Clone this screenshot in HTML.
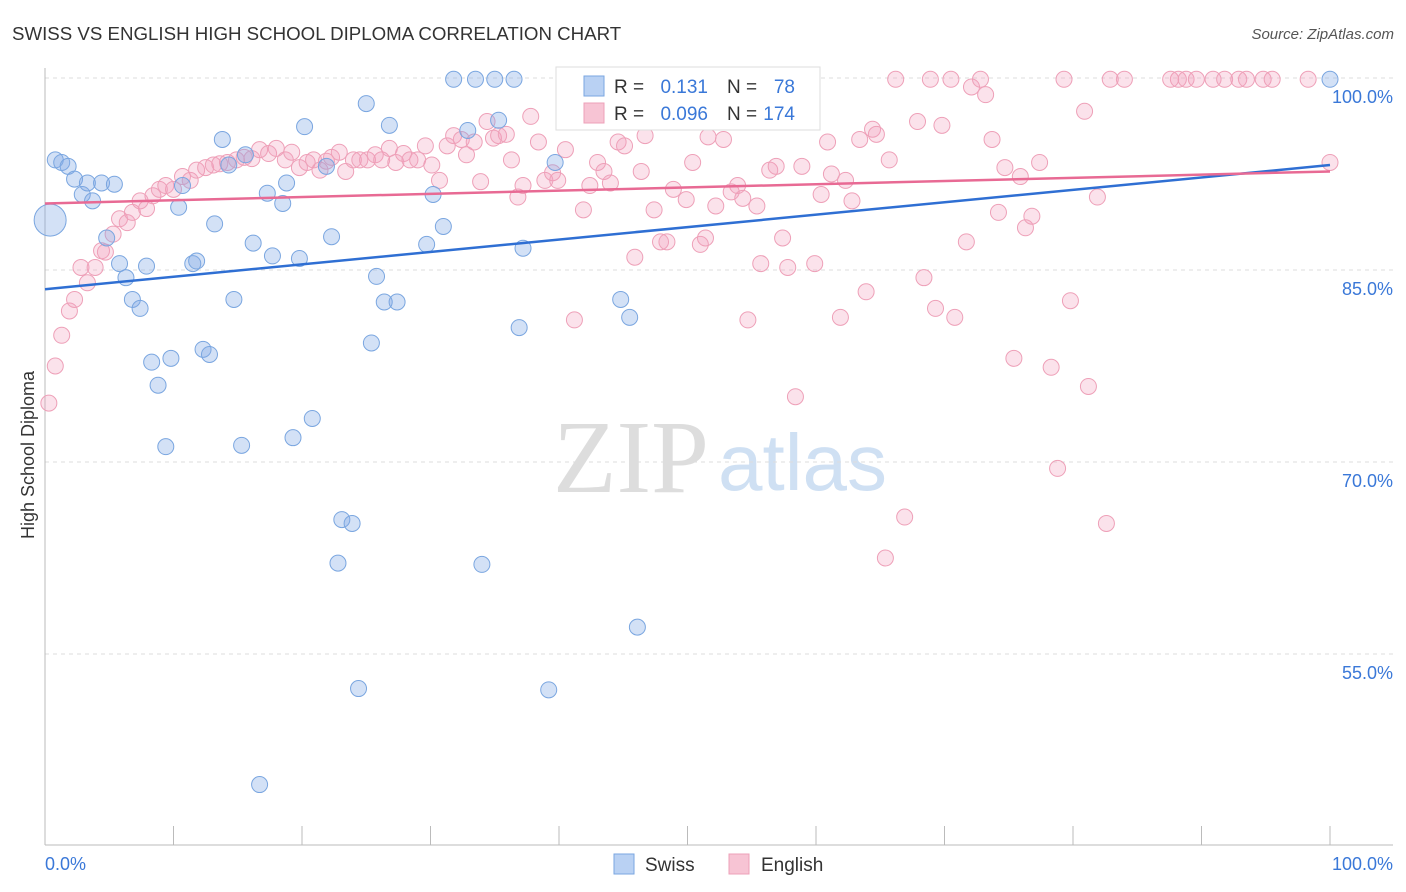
<!DOCTYPE html>
<html><head><meta charset="utf-8">
<style>
body{margin:0;background:#fff;font-family:"Liberation Sans",sans-serif;}
svg{display:block}
</style></head>
<body>
<svg id="chart" width="1406" height="892">
<text x="12" y="40" font-size="18.7" fill="#333">SWISS VS ENGLISH HIGH SCHOOL DIPLOMA CORRELATION CHART</text>
<text x="1394" y="39" font-size="15" fill="#555" font-style="italic" text-anchor="end">Source: ZipAtlas.com</text>
<text x="553" y="492" font-size="104" fill="#ddd" font-family="Liberation Serif,serif">ZIP</text>
<text x="718" y="490" font-size="80" fill="#cfe0f3">atlas</text>
<text transform="translate(34,455) rotate(-90)" font-size="18" fill="#333" text-anchor="middle">High School Diploma</text>
<g id="grid"></g><g id="axes"></g><g id="pts"></g><g id="trend"></g>
<g>
<rect x="556" y="67" width="264" height="63" fill="#fff" stroke="#ddd"/>
<rect x="584" y="76" width="20" height="20" fill="#b9d1f3" stroke="#7aa6e0"/>
<text x="614" y="93" font-size="19" fill="#333">R =</text>
<text x="708" y="93" font-size="19" fill="#3a78d8" text-anchor="end">0.131</text>
<text x="727" y="93" font-size="19" fill="#333">N =</text>
<text x="795" y="93" font-size="19" fill="#3a78d8" text-anchor="end">78</text>
<rect x="584" y="103" width="20" height="20" fill="#f7c4d4" stroke="#eea0b8"/>
<text x="614" y="120" font-size="19" fill="#333">R =</text>
<text x="708" y="120" font-size="19" fill="#3a78d8" text-anchor="end">0.096</text>
<text x="727" y="120" font-size="19" fill="#333">N =</text>
<text x="795" y="120" font-size="19" fill="#3a78d8" text-anchor="end">174</text>
</g>
<g>
<rect x="614" y="854" width="20" height="20" fill="#b9d1f3" stroke="#7aa6e0"/>
<text x="645" y="871" font-size="19" fill="#333">Swiss</text>
<rect x="729" y="854" width="20" height="20" fill="#f7c4d4" stroke="#eea0b8"/>
<text x="761" y="871" font-size="19" fill="#333">English</text>
</g>
</svg>
<script>
const yTicks=[100,85,70,55];
const xTickLabels=["0.0%","100.0%"];
const swissX=[0.4,0.8,1.3,1.8,2.3,2.9,3.3,3.7,4.4,5.4,4.8,5.8,6.3,7.9,6.8,7.4,8.3,8.8,9.8,9.4,10.4,10.7,11.5,11.8,12.3,12.8,13.2,13.8,14.3,14.7,15.3,15.6,16.2,16.7,17.3,17.7,18.5,18.8,19.3,19.8,20.2,20.8,21.9,22.3,22.8,23.1,23.9,24.4,25.0,25.4,25.8,26.4,26.8,27.4,29.7,30.2,31.0,31.8,32.9,33.5,34.0,35.0,35.3,36.5,36.9,37.2,39.2,39.7,41.5,44.8,45.5,46.1,100];
const swissY=[88.9,93.6,93.4,93.1,92.1,90.9,91.8,90.4,91.8,91.7,87.5,85.5,84.4,85.3,82.7,82.0,77.8,76.0,78.1,71.2,89.9,91.6,85.5,85.7,78.8,78.4,88.6,95.2,93.2,82.7,71.3,94.0,87.1,44.8,91.0,86.1,90.2,91.8,71.9,85.9,96.2,73.4,93.1,87.6,62.1,65.5,65.2,52.3,98.0,79.3,84.5,82.5,96.3,82.5,87.0,90.9,88.4,99.9,95.9,99.9,62.0,99.9,96.7,99.9,80.5,86.7,52.2,93.4,99.9,82.7,81.3,57.1,99.9];
const engX=[0.3,0.8,1.3,1.9,2.3,2.8,3.3,3.9,4.4,4.7,5.3,5.8,6.4,6.8,7.4,7.9,8.4,8.9,9.4,10.0,10.7,11.3,11.8,12.5,13.1,13.6,14.2,14.9,15.5,16.1,16.7,17.4,18.0,18.7,19.2,19.8,20.4,20.9,21.4,21.9,22.3,22.9,23.4,24.0,24.5,25.1,25.7,26.2,26.8,27.3,27.9,28.4,29.0,29.6,30.1,30.7,31.3,31.8,32.4,32.8,33.4,33.9,34.4,34.9,35.3,35.9,36.3,36.8,37.2,37.8,38.4,38.9,39.5,39.9,40.5,41.2,41.9,42.4,43.0,43.5,44.0,44.6,45.1,45.9,46.4,46.7,47.4,47.9,48.4,48.9,49.9,50.4,51.0,51.4,51.6,52.2,52.8,53.4,53.9,54.3,54.7,55.4,55.7,56.4,56.9,57.4,57.8,58.4,58.9,59.9,60.4,60.9,61.2,61.9,62.3,62.8,63.4,63.9,64.4,64.7,65.4,65.7,66.2,66.9,67.9,68.4,68.9,69.3,69.8,70.5,70.8,71.7,72.1,72.8,73.2,73.7,74.2,74.7,75.4,75.9,76.3,76.8,77.4,78.3,78.8,79.3,79.8,80.9,81.2,81.9,82.6,82.9,84.0,87.6,88.2,88.8,89.6,90.9,91.8,92.9,93.5,94.8,95.5,98.3,100];
const engY=[74.6,77.5,79.9,81.8,82.7,85.2,84.0,85.2,86.5,86.4,87.8,89.0,88.7,89.5,90.4,89.8,90.8,91.3,91.6,91.3,92.3,92.0,92.8,93.0,93.2,93.3,93.4,93.6,93.8,93.7,94.4,94.1,94.5,93.6,94.2,93.0,93.4,93.6,92.8,93.5,93.8,94.2,92.7,93.6,93.6,93.6,94.0,93.6,94.5,93.4,94.1,93.6,93.6,94.7,93.2,92.0,94.7,95.5,95.2,94.0,95.0,91.9,96.6,95.3,95.5,95.6,93.6,90.7,91.6,97.0,95.0,92.0,92.6,92.0,94.4,81.1,89.7,91.6,93.4,92.7,91.8,95.0,94.7,86.0,92.7,95.5,89.7,87.2,87.2,91.3,90.5,93.4,87.0,87.5,95.4,90.0,95.2,91.1,91.6,90.6,81.1,90.0,85.5,92.8,93.1,87.5,85.2,75.1,93.1,85.5,90.9,95.0,92.5,81.3,92.0,90.4,95.2,83.3,96.0,95.6,62.5,93.6,99.9,65.7,96.6,84.4,99.9,82.0,96.3,99.9,81.3,87.2,99.3,99.9,98.7,95.2,89.5,93.0,78.1,92.3,88.3,89.2,93.4,77.4,69.5,99.9,82.6,97.4,75.9,90.7,65.2,99.9,99.9,99.9,99.9,99.9,99.9,99.9,99.9,99.9,99.9,99.9,99.9,99.9,93.4];
const swissTrend=[83.5,93.2];
const engTrend=[90.2,92.7];

const NS="http://www.w3.org/2000/svg";
const xs=v=>45+v*12.85;
const ys=v=>78+(100-v)*12.8;
function mk(tag,attrs,parent){const e=document.createElementNS(NS,tag);for(const k in attrs)e.setAttribute(k,attrs[k]);document.getElementById(parent).appendChild(e);return e;}
yTicks.forEach(t=>{
  const l=mk('line',{x1:45,x2:1393,y1:ys(t),y2:ys(t),stroke:'#ddd','stroke-dasharray':'4,4'},'grid');
  
  
  const tx=mk('text',{x:1393,y:ys(t)+25,'font-size':18,fill:'#3a78d8','text-anchor':'end'},'grid');
  tx.textContent=t.toFixed(1)+'%';
  
  
});
mk('line',{x1:45,x2:45,y1:68,y2:845,stroke:'#bbb'},'axes');
mk('line',{x1:45,x2:1393,y1:845,y2:845,stroke:'#bbb'},'axes');
for(let i=0;i<=10;i++){
  const t=mk('line',{x1:xs(i*10),x2:xs(i*10),y1:826,y2:845,stroke:'#bbb'},'axes');
  
  
}
[[0,'start',45],[100,'end',1393]].forEach((d,i)=>{
  const tx=mk('text',{x:d[2],y:870,'font-size':18,fill:'#3a78d8','text-anchor':d[1]},'axes');
  tx.textContent=xTickLabels[i];
  
  
});
engX.forEach((x,i)=>{
  if(engY[i]===undefined)return;
  const c=mk('circle',{cx:xs(x),cy:ys(engY[i]),r:8,fill:'rgba(243,160,188,0.3)',stroke:'#eea0b8','stroke-width':1},'pts');
  
  
});
swissX.forEach((x,i)=>{
  const c=mk('circle',{cx:xs(x),cy:ys(swissY[i]),r:i===0?16:8,fill:'rgba(130,170,230,0.35)',stroke:'#7aa6e0','stroke-width':1},'pts');
  
  
});
const b=mk('line',{x1:xs(0),x2:xs(100),y1:ys(swissTrend[0]),y2:ys(swissTrend[1]),stroke:'#2f6fd3','stroke-width':2.5},'trend');


const p=mk('line',{x1:xs(0),x2:xs(100),y1:ys(engTrend[0]),y2:ys(engTrend[1]),stroke:'#e86a94','stroke-width':2.5},'trend');


</script>
</body></html>
